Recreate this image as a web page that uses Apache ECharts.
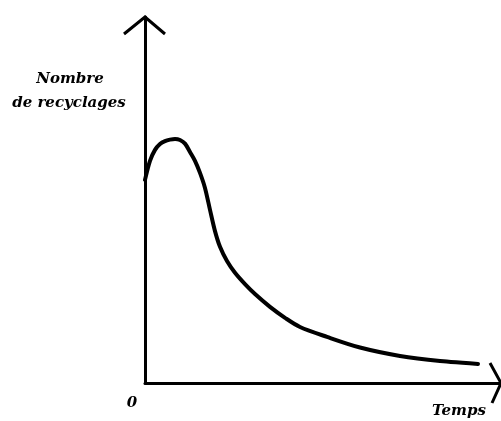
<!DOCTYPE html>
<html><head><meta charset="utf-8">
<script src="https://cdn.jsdelivr.net/npm/echarts@6/dist/echarts.min.js"></script>
<style>html,body{margin:0;padding:0;background:#fff}#c{width:501px;height:421px}</style>
</head><body><div id="c"></div>
<script>
// Data (time in arbitrary units, count in arbitrary units)
var times  = [0, 1.40, 2.81, 4.21, 5.62, 7.02, 8.43, 9.83, 11.24, 12.64, 14.04, 15.45, 16.85, 18.26, 19.66, 21.07, 23.03, 25.28, 28.09, 30.90, 35.11, 39.33, 43.54, 51.12, 60.39, 71.63, 82.87, 93.54];
var counts = [55.5, 60.7, 63.7, 65.3, 66.1, 66.5, 66.7, 66.4, 65.4, 63.1, 60.7, 57.4, 53.3, 47.3, 41.5, 37.2, 33.3, 30.1, 27.0, 24.3, 20.8, 17.8, 15.3, 12.6, 9.7, 7.4, 6.0, 5.2];
var yAxisTitle = ['Nombre', 'de recyclages'];
var xAxisTitle = 'Temps';
var originLabel = '0';

var chart = echarts.init(document.getElementById('c'), null, {renderer: 'canvas'});
var font = "'DejaVu Serif', 'Liberation Serif', serif";
var pts = times.map(function (t, i) { return [t, counts[i]]; });
chart.setOption({
  animation: false,
  backgroundColor: '#fff',
  grid: {left: 145, right: 0, top: 17, bottom: 38},
  xAxis: {type: 'value', min: 0, max: 100, axisLine: {lineStyle: {color: '#000', width: 3}}, axisTick: {show: false}, axisLabel: {show: false}, splitLine: {show: false}},
  yAxis: {type: 'value', min: 0, max: 100, axisLine: {show: true, lineStyle: {color: '#000', width: 3}}, axisTick: {show: false}, axisLabel: {show: false}, splitLine: {show: false}},
  series: [{type: 'line', data: pts, smooth: 0.3, symbol: 'none', lineStyle: {color: '#000', width: 4, join: 'round', cap: 'round'}}]
});

var yEnd = chart.convertToPixel({gridIndex: 0}, [0, 100]);
var xEnd = chart.convertToPixel({gridIndex: 0}, [100, 0]);
var org = chart.convertToPixel({gridIndex: 0}, [0, 0]);
var ls = {stroke: '#000', lineWidth: 3, fill: null};
var tf = 'italic bold 15px ' + font;
chart.setOption({
  graphic: [
    {type: 'polyline', shape: {points: [[yEnd[0] - 21, yEnd[1] + 17], [yEnd[0], yEnd[1]], [yEnd[0] + 20, yEnd[1] + 17]]}, style: ls},
    {type: 'polyline', shape: {points: [[xEnd[0] - 11, xEnd[1] - 20], [xEnd[0], xEnd[1]], [xEnd[0] - 9, xEnd[1] + 20]]}, style: ls},
    {type: 'text', x: 70, y: 87, style: {text: yAxisTitle[0], font: tf, fill: '#000', textAlign: 'center', textVerticalAlign: 'bottom'}},
    {type: 'text', x: 69, y: 111, style: {text: yAxisTitle[1], font: tf, fill: '#000', textAlign: 'center', textVerticalAlign: 'bottom'}},
    {type: 'text', x: org[0] - 13, y: org[1] + 28, style: {text: originLabel, font: tf, fill: '#000', textAlign: 'center', textVerticalAlign: 'bottom'}},
    {type: 'text', x: 459, y: 419, style: {text: xAxisTitle, font: tf, fill: '#000', textAlign: 'center', textVerticalAlign: 'bottom'}}
  ]
});
</script></body></html>
